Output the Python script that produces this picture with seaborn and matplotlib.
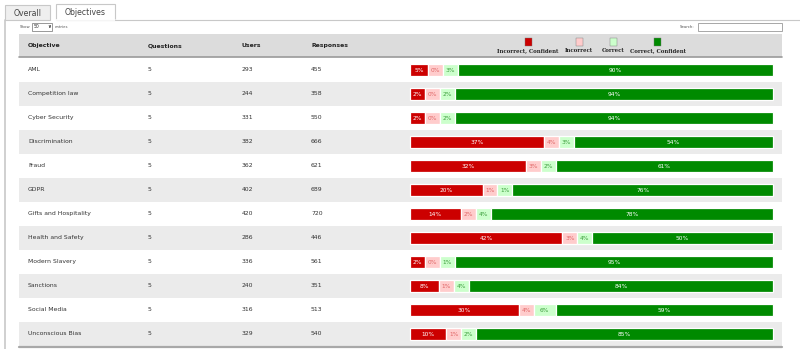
import matplotlib
matplotlib.use("Agg")
import matplotlib.pyplot as plt
import matplotlib.transforms as mtransforms
from matplotlib.patches import Rectangle
import numpy as np
import seaborn as sns

# ---- table data ----
objectives = ["AML", "Competition law", "Cyber Security", "Discrimination", "Fraud",
              "GDPR", "Gifts and Hospitality", "Health and Safety", "Modern Slavery",
              "Sanctions", "Social Media", "Unconscious Bias"]
questions = [5, 5, 5, 5, 5, 5, 5, 5, 5, 5, 5, 5]
users = [293, 244, 331, 382, 362, 402, 420, 286, 336, 240, 316, 329]
responses = [455, 358, 550, 666, 621, 689, 720, 446, 561, 351, 513, 540]

incorrect_confident = [5, 2, 2, 37, 32, 20, 14, 42, 2, 8, 30, 10]
incorrect = [0, 0, 0, 4, 3, 1, 2, 3, 0, 1, 4, 1]
correct = [3, 2, 2, 3, 2, 1, 4, 4, 1, 4, 6, 2]
correct_confident = [90, 94, 94, 54, 61, 76, 78, 50, 95, 84, 59, 85]

series_names = ["Incorrect, Confident", "Incorrect", "Correct", "Correct, Confident"]
series_colors = ["#cc0000", "#ffcccc", "#ccffcc", "#008a00"]
label_colors = ["white", "#e06666", "#3c9e3c", "white"]
columns = ["Objective", "Questions", "Users", "Responses"]

W, H = 800, 349
sns.set_theme(style="white")
plt.rcParams["font.family"] = ["DejaVu Sans"]
fig = plt.figure(figsize=(W / 100, H / 100), dpi=100)
fig.patch.set_facecolor("white")


def fx(px):
    return px / W


def fy(py):
    return 1 - py / H


# ---- tabs and panel frame ----
line_c = "#c8c8c8"
fig.patches.append(Rectangle((fx(5), fy(20)), fx(45), 15 / H, transform=fig.transFigure,
                             facecolor="#efefef", edgecolor=line_c, lw=0.8))
fig.patches.append(Rectangle((fx(56), fy(20)), fx(59), 16 / H, transform=fig.transFigure,
                             facecolor="white", edgecolor=line_c, lw=0.8))
fig.add_artist(plt.Line2D([fx(56.5), fx(114.5)], [fy(20), fy(20)], transform=fig.transFigure,
                          color="white", lw=1.2))
fig.add_artist(plt.Line2D([fx(115), fx(800)], [fy(20), fy(20)], transform=fig.transFigure,
                          color=line_c, lw=0.8))
fig.add_artist(plt.Line2D([fx(5), fx(5)], [fy(20), fy(349)], transform=fig.transFigure,
                          color=line_c, lw=1.2))
fig.text(fx(27.5), fy(13), "Overall", ha="center", va="center", fontsize=5.6, color="#444444")
fig.text(fx(85.5), fy(12.5), "Objectives", ha="center", va="center", fontsize=5.6, color="#444444")

# ---- "Show entries" and "Search" controls ----
fig.text(fx(20), fy(27), "Show", ha="left", va="center", fontsize=2.8, color="#555555")
fig.patches.append(Rectangle((fx(32), fy(31)), fx(20), 8 / H, transform=fig.transFigure,
                             facecolor="white", edgecolor="#888888", lw=0.6))
fig.text(fx(34), fy(27), "50", ha="left", va="center", fontsize=3.3, color="#333333")
fig.text(fx(49), fy(27), "\u2228", ha="center", va="center", fontsize=3.3, color="#333333",
         fontweight="bold")
fig.text(fx(55), fy(27), "entries", ha="left", va="center", fontsize=2.8, color="#555555")
fig.text(fx(694), fy(27), "Search:", ha="right", va="center", fontsize=2.8, color="#555555")
fig.patches.append(Rectangle((fx(698), fy(31)), fx(84), 8 / H, transform=fig.transFigure,
                             facecolor="white", edgecolor="#999999", lw=0.6))

# ---- header band ----
fig.patches.append(Rectangle((fx(19), fy(57)), fx(763), 23 / H, transform=fig.transFigure,
                             facecolor="#dcdcdc", edgecolor="none"))
fig.add_artist(plt.Line2D([fx(19), fx(782)], [fy(57.3), fy(57.3)], transform=fig.transFigure,
                          color="#9a9a9a", lw=1.2))
col_x = [28, 148, 242, 311]
for x, name in zip(col_x, columns):
    fig.text(fx(x), fy(45.5), name, ha="left", va="center", fontsize=4.4,
             fontweight="bold", color="#222222")

legend_x = [528, 579, 613, 657.5]
for x, name, c in zip(legend_x, series_names, series_colors):
    fig.patches.append(Rectangle((fx(x - 3.5), fy(45.5)), fx(7), 7.5 / H, transform=fig.transFigure,
                                 facecolor=c, edgecolor="#777777", lw=0.3))
    fig.text(fx(x), fy(50.5), name, ha="center", va="center", fontsize=3.9,
             fontweight="bold", color="#222222", family="DejaVu Serif")

# ---- body axes: rows and stacked bars ----
top_px, bot_px = 57.5, 346.0
left_px, right_px = 19, 782
ax = fig.add_axes([fx(left_px), fy(bot_px), fx(right_px - left_px), (bot_px - top_px) / H])
n = len(objectives)

# bar scale: 0..100 maps onto pixels 410..773
ppu = (773 - 410) / 100
ax.set_xlim(-(410 - left_px) / ppu, 100 + (right_px - 773) / ppu)

for i in range(n):
    if i % 2 == 1:
        ax.axhspan(i - 0.5, i + 0.5, color="#ebebeb", lw=0, zorder=0)

# small segments get a minimum drawn width, the last one fills the rest
MIN_SEG = 4.1
values = np.array([incorrect_confident, incorrect, correct, correct_confident], dtype=float)
drawn = np.maximum(values[:3], MIN_SEG)
drawn = np.vstack([drawn, 100 - drawn.sum(axis=0)])
lefts = np.vstack([np.zeros(n), np.cumsum(drawn, axis=0)[:-1]])

for k in range(4):
    sns.barplot(x=drawn[k], y=objectives, order=objectives, orient="h", left=lefts[k],
                color=series_colors[k], saturation=1, errorbar=None, width=0.5,
                edgecolor="white", linewidth=0.9, ax=ax, zorder=2)
    for i in range(n):
        ax.text(lefts[k][i] + drawn[k][i] / 2, i + 0.02, f"{int(values[k][i])}%",
                ha="center", va="center", fontsize=4.2, color=label_colors[k], zorder=3)

ax.set_ylim(n - 0.5, -0.5)
ax.axis("off")

# table text columns
tr = mtransforms.blended_transform_factory(fig.transFigure, ax.transData)
for i in range(n):
    row = [objectives[i], str(questions[i]), str(users[i]), str(responses[i])]
    for x, s in zip(col_x, row):
        ax.text(fx(x), i, s, transform=tr, ha="left", va="center", fontsize=4.4, color="#333333")

fig.add_artist(plt.Line2D([fx(19), fx(782)], [fy(346.5), fy(346.5)], transform=fig.transFigure,
                          color="#a8a8a8", lw=1.6))

fig.savefig("out.png", dpi=100, facecolor="white")
